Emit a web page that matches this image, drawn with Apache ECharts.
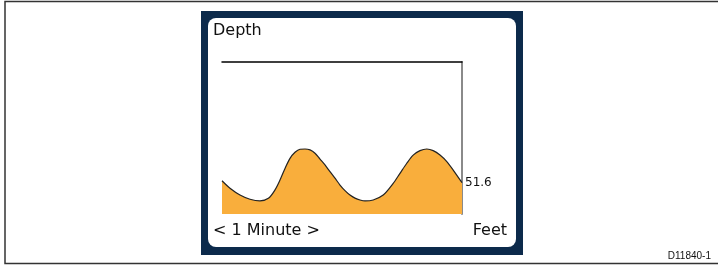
<!DOCTYPE html>
<html><head><meta charset="utf-8">
<script src="https://cdn.jsdelivr.net/npm/echarts@6/dist/echarts.min.js"></script>
<style>html,body{margin:0;padding:0;background:#fff}#c{width:718px;height:266px}</style>
</head><body><div id="c"></div>
<script>
// time in seconds across the 1-minute window
const seconds = [0, 2, 4.5, 7, 9.5, 11.6, 13.25, 14.5, 15.75, 17, 18.25, 19.5, 20.75, 22, 23.25, 24.5, 25.75, 27, 28.25, 29.5, 30.75, 32, 33.25, 34.5, 35.75, 37.8, 40.3, 42.8, 44.5, 46.2, 47.8, 49.5, 51.2, 52.8, 54.5, 56.2, 57.8, 60];
// depth in feet
const depths = [50.8, 54.0, 56.9, 58.7, 59.4, 58.3, 54.7, 50.5, 45.5, 41.2, 38.6, 37.3, 37.2, 37.6, 39.0, 41.5, 44.0, 46.9, 49.7, 52.6, 55.0, 56.9, 58.2, 59.0, 59.4, 59.0, 56.9, 51.9, 47.6, 43.3, 39.8, 37.9, 37.2, 37.9, 39.8, 42.6, 46.2, 51.6];
const titleText = "Depth";
const timeText = "< 1 Minute >";
const unitText = "Feet";
const figId = "D11840-1";

const chart = echarts.init(document.getElementById('c'), null, {renderer: 'canvas'});
const font = "DejaVu Sans";
chart.setOption({
  animation: false,
  grid: {left: 222, top: 62, width: 240, height: 152, show: false},
  xAxis: {type: 'value', min: 0, max: 60, position: 'top',
    axisLine: {show: true, onZero: false, lineStyle: {color: '#000', width: 1.5}},
    axisTick: {show: false}, axisLabel: {show: false}, splitLine: {show: false}},
  yAxis: {type: 'value', min: 0, max: 65, inverse: true, position: 'right',
    axisLine: {show: true, onZero: false, lineStyle: {color: '#8a8a8a', width: 2}},
    axisTick: {show: false}, axisLabel: {show: false}, splitLine: {show: false}},
  graphic: [
    {type: 'rect', z: -10, shape: {x: 5, y: 1.5, width: 720, height: 262}, style: {fill: '#fff', stroke: '#333', lineWidth: 1.5}},
    {type: 'rect', z: -9, shape: {x: 201, y: 11, width: 322, height: 244}, style: {fill: '#0c2a4b'}},
    {type: 'rect', z: -8, shape: {x: 208, y: 18, width: 308, height: 229, r: 8}, style: {fill: '#fff'}},
    {type: 'text', left: 213, top: 23, style: {text: titleText, font: '16px "' + font + '"', fill: '#111'}},
    {type: 'text', left: 213, top: 223, style: {text: timeText, font: '16px "' + font + '"', fill: '#111'}},
    {type: 'text', right: 211, top: 223, style: {text: unitText, font: '16px "' + font + '"', fill: '#111'}},
    {type: 'text', right: 7, top: 251, style: {text: figId, font: '10px "Liberation Sans"', fill: '#111'}}
  ],
  series: [{
    type: 'line', smooth: 0.3, showSymbol: false,
    data: seconds.map((s, i) => [s, depths[i]]),
    lineStyle: {color: '#222', width: 1.2},
    areaStyle: {color: '#f9ae3c', opacity: 1, origin: 'end'},
    endLabel: {show: true, formatter: p => p.value[1].toFixed(1), distance: 3,
      fontFamily: font, fontSize: 12, color: '#111'}
  }]
});
</script></body></html>
